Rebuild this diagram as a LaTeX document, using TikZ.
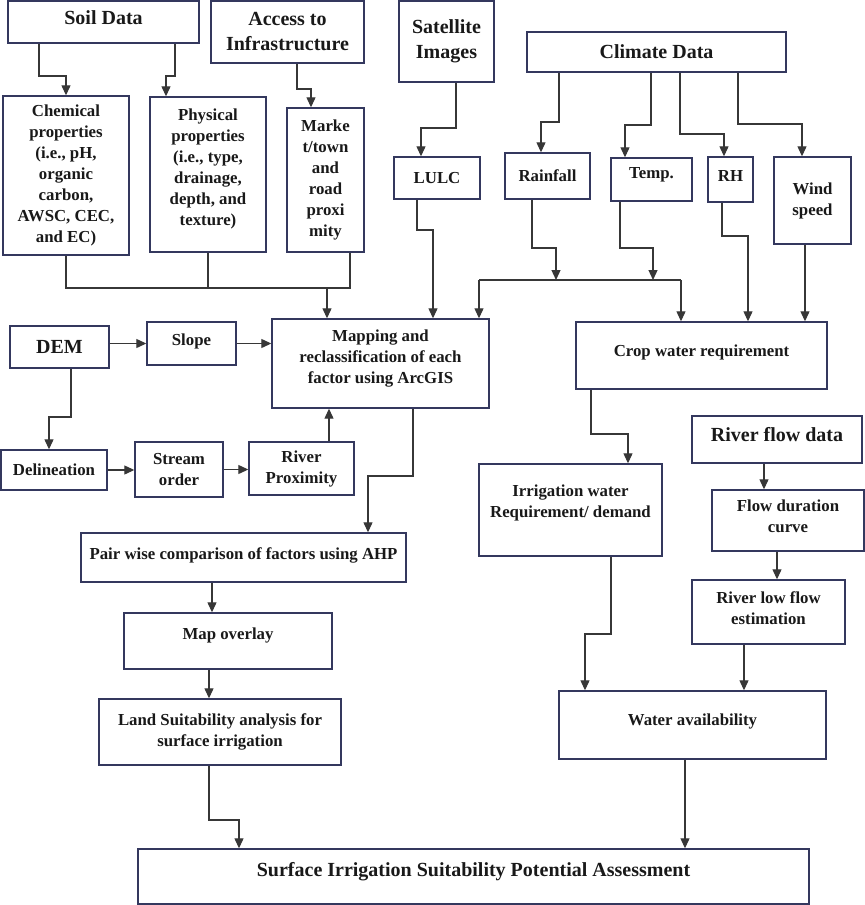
\documentclass[tikz,border=0pt]{standalone}
\usepackage{fontspec}
\setmainfont{Liberation Serif}
\usepackage{xcolor}
\usetikzlibrary{arrows.meta}
\definecolor{boxline}{RGB}{52,56,94}
\definecolor{flowline}{RGB}{55,55,55}
\definecolor{labeltext}{RGB}{25,25,25}

\begin{document}
\begin{tikzpicture}[x=0.5pt, y=-0.5pt,
  box/.style={draw=boxline, line width=0.7pt, inner sep=1pt, align=center, text=labeltext,
    font=\bfseries\fontsize{8.4}{10.5}\selectfont},
  head/.style={box, font=\bfseries\fontsize{10}{12.5}\selectfont},
  link/.style={draw=flowline, line width=0.6pt},
  arr/.style={link, -{Triangle[length=5pt,width=4.5pt]}}]
  \fill[white] (0,0) rectangle (865,905);
  \useasboundingbox (0,0) rectangle (865,905);

  % Data sources
  \node[head, minimum width=95.5pt, minimum height=21pt, text depth=4.5pt] (soil) at (103.5,22) {Soil Data};
  \node[head, minimum width=76.5pt, minimum height=31pt] (access) at (287.5,32) {Access to\\Infrastructure};
  \node[head, minimum width=47.5pt, minimum height=40.5pt] (sat) at (446.5,41.5) {Satellite\\Images};
  \node[head, minimum width=129.5pt, minimum height=20pt] (climate) at (656.5,52) {Climate Data};

  % Factors
  \node[box, minimum width=63pt, minimum height=79.5pt] (chem) at (66,175.5)
    {Chemical\\properties\\(i.e., pH,\\organic\\carbon,\\AWSC, CEC,\\and EC)};
  \node[box, minimum width=58pt, minimum height=77.5pt, text depth=7pt] (phys) at (208,174.5)
    {Physical\\properties\\(i.e., type,\\drainage,\\depth, and\\texture)};
  \node[box, minimum width=38.5pt, minimum height=72pt] (market) at (325.5,180)
    {Marke\\t/town\\and\\road\\proxi\\mity};
  \node[box, minimum width=43pt, minimum height=21pt] (lulc) at (437,178) {LULC};
  \node[box, minimum width=42.5pt, minimum height=23pt] (rain) at (547.5,176) {Rainfall};
  \node[box, minimum width=40.5pt, minimum height=21.5pt, text depth=7pt] (temp) at (651.5,179.5) {Temp.};
  \node[box, minimum width=22.5pt, minimum height=22.5pt, text depth=4pt] (rh) at (730.5,179.5) {RH};
  \node[box, minimum width=38.5pt, minimum height=43.5pt] (wind) at (812.5,200.5) {Wind\\speed};

  % Processing
  \node[box, minimum width=108.5pt, minimum height=44.5pt, text depth=6.5pt] (map) at (380.5,363.5)
    {Mapping and\\reclassification of each\\factor using ArcGIS};
  \node[box, minimum width=125.5pt, minimum height=33.5pt, text depth=5pt] (crop) at (701.5,355.5) {Crop water requirement};
  \node[head, minimum width=49.5pt, minimum height=21pt] (dem) at (59.5,347) {DEM};
  \node[box, minimum width=44.5pt, minimum height=21.5pt, text depth=4pt] (slope) at (191.5,343.5) {Slope};
  \node[box, minimum width=53pt, minimum height=20pt] (delin) at (54,470) {Delineation};
  \node[box, minimum width=44pt, minimum height=27.5pt] (stream) at (179,469.5) {Stream\\order};
  \node[box, minimum width=52.5pt, minimum height=26.5pt] (riverprox) at (301.5,468.5) {River\\Proximity};
  \node[box, minimum width=162.5pt, minimum height=24.5pt, text depth=4pt] (ahp) at (243.5,557.5)
    {Pair wise comparison of factors using AHP};
  \node[box, minimum width=104pt, minimum height=28pt, text depth=7.5pt] (overlay) at (228,641) {Map overlay};
  \node[box, minimum width=121pt, minimum height=33pt] (land) at (220,732)
    {Land Suitability analysis for\\surface irrigation};
  \node[box, minimum width=91.5pt, minimum height=46pt, text depth=8.5pt] (irrig) at (570.5,510)
    {Irrigation water\\Requirement/ demand};
  \node[head, minimum width=85pt, minimum height=23.5pt, text depth=5pt] (riverflow) at (777,439.5) {River flow data};
  \node[box, minimum width=76pt, minimum height=30.5pt, text depth=4pt] (fdc) at (788,520.5) {Flow duration\\curve};
  \node[box, minimum width=76.5pt, minimum height=32pt, text depth=4pt] (lowflow) at (768.5,612) {River low flow\\estimation};
  \node[box, minimum width=133.5pt, minimum height=34pt, text depth=5.5pt] (water) at (692.5,725) {Water availability};
  \node[head, minimum width=335.5pt, minimum height=27.5pt, text depth=7.5pt] (surface) at (473.5,876.5)
    {Surface Irrigation Suitability Potential Assessment};
  \coordinate (jl) at (479,280);
  \coordinate (jr) at (681,280);

  % Top connectors
  \draw[arr] (39,0 |- soil.south) -- (39,76) -| (chem.north);
  \draw[arr] (175,0 |- soil.south) -- (175,76) -| (166,0 |- phys.north);
  \draw[arr] (297,0 |- access.south) -- (297,89) -| (311,0 |- market.north);
  \draw[arr] (456,0 |- sat.south) -- (456,128) -| (421,0 |- lulc.north);
  \draw[arr] (559,0 |- climate.south) -- (559,122) -| (541,0 |- rain.north);
  \draw[arr] (651,0 |- climate.south) -- (651,125) -| (625,0 |- temp.north);
  \draw[arr] (680,0 |- climate.south) -- (680,134) -| (724,0 |- rh.north);
  \draw[arr] (738,0 |- climate.south) -- (738,124) -| (802,0 |- wind.north);

  % Into mapping and crop water
  \draw[link] (66,0 |- chem.south) -- (66,288) -- (350,288) -- (350,0 |- market.south);
  \draw[link] (208,0 |- phys.south) -- (208,288);
  \draw[arr] (327,288) -- (327,0 |- map.north);
  \draw[arr] (417,0 |- lulc.south) -- (417,230) -| (433,0 |- map.north);
  \draw[arr] (532,0 |- rain.south) -- (532,248) -| (556,0 |- jl);
  \draw[arr] (620,0 |- temp.south) -- (620,248) -| (653,0 |- jl);
  \draw[link] (jl) -- (jr);
  \draw[arr] (jl) -- (jl |- map.north);
  \draw[arr] (jr) -- (jr |- crop.north);
  \draw[arr] (722,0 |- rh.south) -- (722,236) -| (748,0 |- crop.north);
  \draw[arr] (805,0 |- wind.south) -- (805,0 |- crop.north);

  % DEM branch
  \draw[arr] (dem.east |- slope.west) -- (slope.west);
  \draw[arr] (slope.east) -- (map.west |- slope.east);
  \draw[arr] (71,0 |- dem.south) -- (71,417) -| (49,0 |- delin.north);
  \draw[arr] (delin.east) -- (stream.west |- delin.east);
  \draw[arr] (stream.east) -- (riverprox.west |- stream.east);
  \draw[arr] (329,0 |- riverprox.north) -- (329,0 |- map.south);

  % Left chain
  \draw[arr] (413,0 |- map.south) -- (413,476) -| (368,0 |- ahp.north);
  \draw[arr] (212,0 |- ahp.south) -- (212,0 |- overlay.north);
  \draw[arr] (209,0 |- overlay.south) -- (209,0 |- land.north);
  \draw[arr] (209,0 |- land.south) -- (209,820) -| (239,0 |- surface.north);

  % Right chain
  \draw[arr] (591,0 |- crop.south) -- (591,434) -| (628,0 |- irrig.north);
  \draw[arr] (611,0 |- irrig.south) -- (611,634) -| (585,0 |- water.north);
  \draw[arr] (764,0 |- riverflow.south) -- (764,0 |- fdc.north);
  \draw[arr] (777,0 |- fdc.south) -- (777,0 |- lowflow.north);
  \draw[arr] (744,0 |- lowflow.south) -- (744,0 |- water.north);
  \draw[arr] (685,0 |- water.south) -- (685,0 |- surface.north);
\end{tikzpicture}
\end{document}
